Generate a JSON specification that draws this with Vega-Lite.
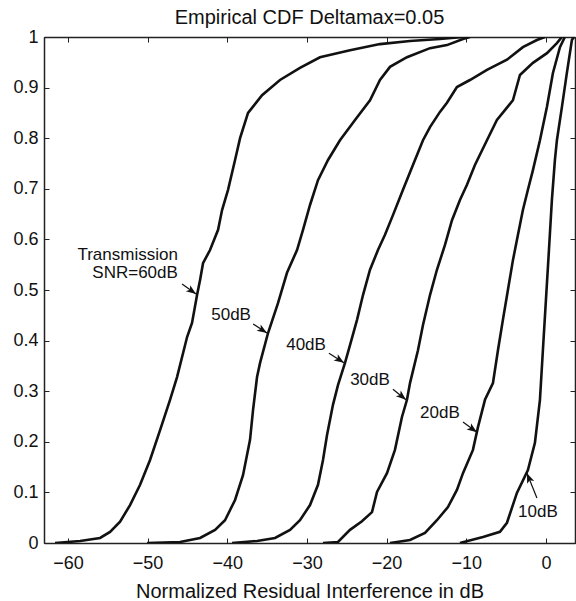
{
  "$schema": "https://vega.github.io/schema/vega-lite/v6.json",
  "width": 531,
  "height": 506,
  "autosize": {"type": "none"},
  "padding": {"left": 44, "top": 37, "right": 1, "bottom": 58},
  "background": "white",
  "config": {
    "view": {"stroke": "#000", "strokeWidth": 1},
    "font": "Liberation Sans",
    "axis": {"domainColor": "#222", "domainWidth": 1.5, "tickColor": "#222", "tickWidth": 1, "labelColor": "#111", "titleColor": "#111", "grid": false, "labelFont": "Liberation Sans", "titleFont": "Liberation Sans"}
  },
  "title": {"text": "Empirical CDF Deltamax=0.05", "fontSize": 20, "fontWeight": "normal", "font": "Liberation Sans", "color": "#111", "offset": 0},
  "datasets": {
    "curves": [
      {"snr":"60dB","x":-61.61,"y":0},{"snr":"60dB","x":-58.47,"y":0.004},{"snr":"60dB","x":-55.96,"y":0.010},{"snr":"60dB","x":-54.71,"y":0.022},{"snr":"60dB","x":-53.45,"y":0.042},{"snr":"60dB","x":-52.20,"y":0.075},{"snr":"60dB","x":-50.94,"y":0.115},{"snr":"60dB","x":-49.69,"y":0.164},{"snr":"60dB","x":-48.43,"y":0.223},{"snr":"60dB","x":-47.18,"y":0.283},{"snr":"60dB","x":-46.30,"y":0.328},{"snr":"60dB","x":-45.04,"y":0.407},{"snr":"60dB","x":-44.42,"y":0.435},{"snr":"60dB","x":-43.79,"y":0.490},{"snr":"60dB","x":-43.41,"y":0.520},{"snr":"60dB","x":-43.04,"y":0.553},{"snr":"60dB","x":-42.16,"y":0.579},{"snr":"60dB","x":-41.15,"y":0.619},{"snr":"60dB","x":-40.65,"y":0.658},{"snr":"60dB","x":-39.90,"y":0.698},{"snr":"60dB","x":-39.02,"y":0.757},{"snr":"60dB","x":-38.39,"y":0.800},{"snr":"60dB","x":-37.39,"y":0.850},{"snr":"60dB","x":-35.63,"y":0.885},{"snr":"60dB","x":-33.38,"y":0.915},{"snr":"60dB","x":-30.87,"y":0.939},{"snr":"60dB","x":-28.36,"y":0.960},{"snr":"60dB","x":-24.59,"y":0.974},{"snr":"60dB","x":-20.83,"y":0.986},{"snr":"60dB","x":-17.06,"y":0.992},{"snr":"60dB","x":-13.30,"y":0.996},{"snr":"60dB","x":-10.41,"y":1.0},
      {"snr":"50dB","x":-50.06,"y":0},{"snr":"50dB","x":-45.92,"y":0.002},{"snr":"50dB","x":-43.41,"y":0.010},{"snr":"50dB","x":-41.53,"y":0.026},{"snr":"50dB","x":-40.28,"y":0.045},{"snr":"50dB","x":-39.02,"y":0.085},{"snr":"50dB","x":-38.02,"y":0.134},{"snr":"50dB","x":-37.14,"y":0.204},{"snr":"50dB","x":-36.76,"y":0.263},{"snr":"50dB","x":-36.26,"y":0.328},{"snr":"50dB","x":-35.88,"y":0.356},{"snr":"50dB","x":-34.88,"y":0.415},{"snr":"50dB","x":-33.63,"y":0.474},{"snr":"50dB","x":-32.50,"y":0.534},{"snr":"50dB","x":-31.24,"y":0.579},{"snr":"50dB","x":-30.49,"y":0.619},{"snr":"50dB","x":-29.61,"y":0.668},{"snr":"50dB","x":-28.61,"y":0.717},{"snr":"50dB","x":-27.35,"y":0.757},{"snr":"50dB","x":-25.85,"y":0.796},{"snr":"50dB","x":-23.96,"y":0.836},{"snr":"50dB","x":-22.08,"y":0.875},{"snr":"50dB","x":-20.83,"y":0.915},{"snr":"50dB","x":-19.57,"y":0.941},{"snr":"50dB","x":-17.44,"y":0.960},{"snr":"50dB","x":-14.55,"y":0.978},{"snr":"50dB","x":-12.42,"y":0.984},{"snr":"50dB","x":-10.41,"y":0.996},{"snr":"50dB","x":-9.54,"y":1.0},
      {"snr":"40dB","x":-39.40,"y":0},{"snr":"40dB","x":-36.26,"y":0.004},{"snr":"40dB","x":-34.00,"y":0.010},{"snr":"40dB","x":-32.12,"y":0.026},{"snr":"40dB","x":-30.87,"y":0.045},{"snr":"40dB","x":-29.61,"y":0.075},{"snr":"40dB","x":-28.61,"y":0.115},{"snr":"40dB","x":-27.98,"y":0.164},{"snr":"40dB","x":-27.48,"y":0.213},{"snr":"40dB","x":-26.73,"y":0.273},{"snr":"40dB","x":-26.10,"y":0.312},{"snr":"40dB","x":-25.22,"y":0.356},{"snr":"40dB","x":-24.59,"y":0.391},{"snr":"40dB","x":-23.71,"y":0.441},{"snr":"40dB","x":-22.96,"y":0.490},{"snr":"40dB","x":-22.08,"y":0.540},{"snr":"40dB","x":-21.08,"y":0.579},{"snr":"40dB","x":-20.20,"y":0.609},{"snr":"40dB","x":-19.20,"y":0.648},{"snr":"40dB","x":-17.94,"y":0.698},{"snr":"40dB","x":-16.69,"y":0.747},{"snr":"40dB","x":-15.43,"y":0.796},{"snr":"40dB","x":-14.55,"y":0.822},{"snr":"40dB","x":-13.30,"y":0.852},{"snr":"40dB","x":-12.42,"y":0.870},{"snr":"40dB","x":-11.17,"y":0.901},{"snr":"40dB","x":-9.54,"y":0.915},{"snr":"40dB","x":-7.40,"y":0.935},{"snr":"40dB","x":-4.89,"y":0.955},{"snr":"40dB","x":-2.89,"y":0.980},{"snr":"40dB","x":-1.13,"y":0.994},{"snr":"40dB","x":-0.13,"y":1.0},
      {"snr":"30dB","x":-27.98,"y":0},{"snr":"30dB","x":-26.10,"y":0.002},{"snr":"30dB","x":-24.59,"y":0.026},{"snr":"30dB","x":-23.09,"y":0.043},{"snr":"30dB","x":-21.83,"y":0.061},{"snr":"30dB","x":-21.20,"y":0.101},{"snr":"30dB","x":-19.95,"y":0.138},{"snr":"30dB","x":-18.95,"y":0.184},{"snr":"30dB","x":-18.07,"y":0.249},{"snr":"30dB","x":-17.44,"y":0.283},{"snr":"30dB","x":-17.06,"y":0.316},{"snr":"30dB","x":-16.06,"y":0.381},{"snr":"30dB","x":-15.43,"y":0.431},{"snr":"30dB","x":-14.55,"y":0.490},{"snr":"30dB","x":-13.68,"y":0.540},{"snr":"30dB","x":-12.67,"y":0.589},{"snr":"30dB","x":-11.79,"y":0.638},{"snr":"30dB","x":-10.79,"y":0.678},{"snr":"30dB","x":-9.91,"y":0.708},{"snr":"30dB","x":-8.91,"y":0.747},{"snr":"30dB","x":-7.40,"y":0.796},{"snr":"30dB","x":-6.15,"y":0.836},{"snr":"30dB","x":-4.14,"y":0.875},{"snr":"30dB","x":-3.26,"y":0.925},{"snr":"30dB","x":-1.63,"y":0.949},{"snr":"30dB","x":0.13,"y":0.968},{"snr":"30dB","x":1.38,"y":0.988},{"snr":"30dB","x":2.01,"y":1.0},
      {"snr":"20dB","x":-19.57,"y":0},{"snr":"20dB","x":-18.70,"y":0.002},{"snr":"20dB","x":-17.06,"y":0.006},{"snr":"20dB","x":-15.18,"y":0.020},{"snr":"20dB","x":-13.68,"y":0.045},{"snr":"20dB","x":-12.30,"y":0.071},{"snr":"20dB","x":-11.17,"y":0.105},{"snr":"20dB","x":-10.41,"y":0.138},{"snr":"20dB","x":-9.16,"y":0.184},{"snr":"20dB","x":-8.53,"y":0.229},{"snr":"20dB","x":-7.65,"y":0.283},{"snr":"20dB","x":-6.65,"y":0.316},{"snr":"20dB","x":-6.02,"y":0.381},{"snr":"20dB","x":-5.40,"y":0.441},{"snr":"20dB","x":-4.77,"y":0.500},{"snr":"20dB","x":-4.14,"y":0.559},{"snr":"20dB","x":-3.51,"y":0.609},{"snr":"20dB","x":-2.89,"y":0.658},{"snr":"20dB","x":-2.26,"y":0.698},{"snr":"20dB","x":-1.63,"y":0.737},{"snr":"20dB","x":-0.75,"y":0.796},{"snr":"20dB","x":0.13,"y":0.862},{"snr":"20dB","x":0.88,"y":0.929},{"snr":"20dB","x":1.76,"y":0.980},{"snr":"20dB","x":2.38,"y":1.0},
      {"snr":"10dB","x":-10.79,"y":0},{"snr":"10dB","x":-7.90,"y":0.012},{"snr":"10dB","x":-5.77,"y":0.022},{"snr":"10dB","x":-4.89,"y":0.040},{"snr":"10dB","x":-3.64,"y":0.099},{"snr":"10dB","x":-2.26,"y":0.144},{"snr":"10dB","x":-1.38,"y":0.198},{"snr":"10dB","x":-0.75,"y":0.283},{"snr":"10dB","x":-0.38,"y":0.381},{"snr":"10dB","x":0.0,"y":0.480},{"snr":"10dB","x":0.38,"y":0.579},{"snr":"10dB","x":0.75,"y":0.678},{"snr":"10dB","x":1.13,"y":0.757},{"snr":"10dB","x":1.38,"y":0.796},{"snr":"10dB","x":2.01,"y":0.862},{"snr":"10dB","x":2.63,"y":0.929},{"snr":"10dB","x":3.26,"y":0.994},{"snr":"10dB","x":3.51,"y":1.0}
    ],
    "rightLabels": [
      {"x": -46.2, "y": 0.569, "text": "Transmission"},
      {"x": -46.2, "y": 0.534, "text": "SNR=60dB"}
    ],
    "centerLabels": [
      {"x": -39.52, "y": 0.451, "text": "50dB"},
      {"x": -30.11, "y": 0.391, "text": "40dB"},
      {"x": -22.08, "y": 0.322, "text": "30dB"},
      {"x": -13.30, "y": 0.257, "text": "20dB"},
      {"x": -1.00, "y": 0.061, "text": "10dB"}
    ],
    "arrows": [
      {"x": -45.67, "y": 0.512, "x2": -43.91, "y2": 0.492, "angle": 35.5},
      {"x": -36.76, "y": 0.433, "x2": -35.01, "y2": 0.415, "angle": 32.7},
      {"x": -27.23, "y": 0.375, "x2": -25.35, "y2": 0.356, "angle": 33.7},
      {"x": -19.20, "y": 0.304, "x2": -17.57, "y2": 0.283, "angle": 40},
      {"x": -10.41, "y": 0.239, "x2": -8.66, "y2": 0.219, "angle": 35.5},
      {"x": -1.13, "y": 0.089, "x2": -2.38, "y2": 0.138, "angle": 248.2}
    ]
  },
  "layer": [
    {
      "data": {"name": "curves"},
      "mark": {"type": "line", "color": "#111", "strokeWidth": 2.6, "clip": true},
      "encoding": {
        "detail": {"field": "snr"},
        "x": {"field": "x", "type": "quantitative", "scale": {"domain": [-63, 3.65], "nice": false, "zero": false},
          "axis": {"orient": "bottom", "values": [-60, -50, -40, -30, -20, -10, 0], "tickSize": -5, "labelPadding": 16, "labelFontSize": 18, "labelFont": "Liberation Sans", "title": "Normalized Residual Interference in dB", "titleFontSize": 20, "titleFontWeight": "normal", "titlePadding": 9}},
        "y": {"field": "y", "type": "quantitative", "scale": {"domain": [0, 1], "nice": false, "zero": false},
          "axis": {"orient": "left", "values": [0, 0.1, 0.2, 0.3, 0.4, 0.5, 0.6, 0.7, 0.8, 0.9, 1], "format": "~g", "tickSize": -5, "labelPadding": 11, "labelFontSize": 18, "title": null}}
      }
    },
    {
      "data": {"name": "curves"},
      "mark": {"type": "point", "opacity": 0},
      "encoding": {
        "x": {"field": "x", "type": "quantitative", "scale": {"domain": [-63, 3.65], "nice": false, "zero": false},
          "axis": {"orient": "top", "values": [-60, -50, -40, -30, -20, -10, 0], "tickSize": -5, "labels": false, "title": null}},
        "y": {"field": "y", "type": "quantitative", "scale": {"domain": [0, 1], "nice": false, "zero": false},
          "axis": {"orient": "right", "values": [0, 0.1, 0.2, 0.3, 0.4, 0.5, 0.6, 0.7, 0.8, 0.9, 1], "tickSize": -5, "labels": false, "title": null}}
      }
    },
    {
      "data": {"name": "rightLabels"},
      "mark": {"type": "text", "align": "right", "baseline": "middle", "fontSize": 17, "font": "Liberation Sans", "color": "#111"},
      "encoding": {
        "x": {"field": "x", "type": "quantitative", "axis": null},
        "y": {"field": "y", "type": "quantitative", "axis": null},
        "text": {"field": "text"}
      }
    },
    {
      "data": {"name": "centerLabels"},
      "mark": {"type": "text", "align": "center", "baseline": "middle", "fontSize": 17, "font": "Liberation Sans", "color": "#111"},
      "encoding": {
        "x": {"field": "x", "type": "quantitative", "axis": null},
        "y": {"field": "y", "type": "quantitative", "axis": null},
        "text": {"field": "text"}
      }
    },
    {
      "data": {"name": "arrows"},
      "mark": {"type": "rule", "color": "#111", "strokeWidth": 1.2},
      "encoding": {
        "x": {"field": "x", "type": "quantitative", "axis": null},
        "y": {"field": "y", "type": "quantitative", "axis": null},
        "x2": {"field": "x2"},
        "y2": {"field": "y2"}
      }
    },
    {
      "data": {"name": "arrows"},
      "mark": {"type": "point", "shape": "M0,0 L-1,-0.38 L-0.75,0 L-1,0.38 Z", "filled": true, "color": "#111", "size": 400, "opacity": 1, "strokeWidth": 0},
      "encoding": {
        "x": {"field": "x2", "type": "quantitative", "axis": null},
        "y": {"field": "y2", "type": "quantitative", "axis": null},
        "angle": {"field": "angle", "type": "quantitative", "scale": null}
      }
    }
  ],
  "resolve": {"axis": {"x": "independent", "y": "independent"}}
}
